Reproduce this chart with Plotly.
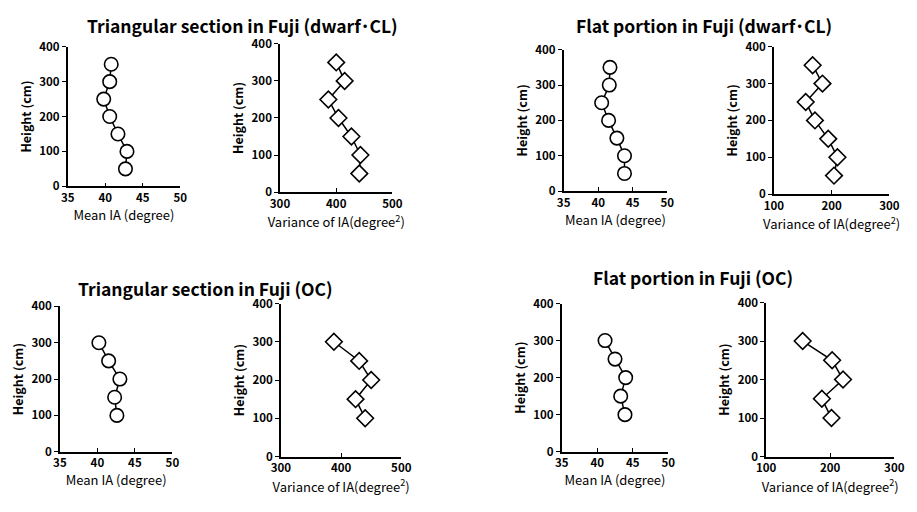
import plotly.graph_objects as go

W, H = 917, 512

# ---- data ----
heights_cl = [350, 300, 250, 200, 150, 100, 50]
heights_oc = [300, 250, 200, 150, 100]

tri_cl_mean = [40.8, 40.6, 39.8, 40.6, 41.7, 42.9, 42.7]
tri_cl_var = [400, 415, 386, 404, 427, 443, 441]
flat_cl_mean = [41.7, 41.6, 40.5, 41.5, 42.7, 43.8, 43.8]
flat_cl_var = [167, 184, 155, 171, 194, 210, 204]

tri_oc_mean = [40.2, 41.5, 43.0, 42.3, 42.6]
tri_oc_var = [388, 430, 450, 424, 440]
flat_oc_mean = [41.1, 42.5, 44.0, 43.3, 43.9]
flat_oc_var = [157, 203, 220, 187, 202]

titles = ["Triangular section in Fuji (dwarf･CL)", "Flat portion in Fuji (dwarf･CL)",
          "Triangular section in Fuji (OC)", "Flat portion in Fuji (OC)"]

mean_ticks = [35, 40, 45, 50]
y_ticks = [0, 100, 200, 300, 400]
var_ticks_tri = [300, 400, 500]
var_ticks_flat = [100, 200, 300]

FONT = "Noto Sans CJK JP, Liberation Sans, Arial, sans-serif"

# panel pixel boxes: (x0, x1, y0, y1)
panels = [
    dict(x=tri_cl_mean, y=heights_cl, box=(59, 174, 39, 183), xr=[35, 50], xt=mean_ticks, kind="mean"),
    dict(x=tri_cl_var, y=heights_cl, box=(276, 391, 36, 189), xr=[300, 500], xt=var_ticks_tri, kind="var"),
    dict(x=flat_cl_mean, y=heights_cl, box=(566, 672, 42, 188), xr=[35, 50], xt=mean_ticks, kind="mean"),
    dict(x=flat_cl_var, y=heights_cl, box=(781, 899, 39, 191), xr=[100, 300], xt=var_ticks_flat, kind="var"),
    dict(x=tri_oc_mean, y=heights_oc, box=(51, 166, 307, 457), xr=[35, 50], xt=mean_ticks, kind="mean"),
    dict(x=tri_oc_var, y=heights_oc, box=(277, 400, 304, 462), xr=[300, 500], xt=var_ticks_tri, kind="var"),
    dict(x=flat_oc_mean, y=heights_oc, box=(564, 673, 304, 457), xr=[35, 50], xt=mean_ticks, kind="mean"),
    dict(x=flat_oc_var, y=heights_oc, box=(773, 904, 303, 462), xr=[100, 300], xt=var_ticks_flat, kind="var"),
]

fig = go.Figure()
layout = dict(
    width=W, height=H, margin=dict(l=0, r=0, t=0, b=0),
    paper_bgcolor="white", plot_bgcolor="white", showlegend=False,
    font=dict(family=FONT, color="black"),
)

for i, p in enumerate(panels, start=1):
    sfx = "" if i == 1 else str(i)
    x0, x1, y0, y1 = p["box"]
    marker = dict(symbol="circle", size=13.5) if p["kind"] == "mean" else dict(symbol="diamond", size=12.8)
    marker.update(color="white", line=dict(color="black", width=1.6))
    fig.add_trace(go.Scatter(
        x=p["x"], y=p["y"], mode="lines+markers",
        line=dict(color="black", width=1.5), marker=marker,
        xaxis="x" + sfx, yaxis="y" + sfx, cliponaxis=False,
    ))
    if p["kind"] == "mean":
        xtitle, stand = "Mean IA (degree)", 5
    else:
        xtitle, stand = "Variance of IA(degree<sup>2</sup>)", 8
    layout["xaxis" + sfx] = dict(
        domain=[x0 / W, x1 / W], anchor="y" + sfx, range=p["xr"],
        tickvals=p["xt"], showgrid=False, zeroline=False,
        showline=True, linecolor="black", linewidth=1.5,
        ticks="inside", ticklen=4, tickcolor="black",
        tickfont=dict(size=11.5, weight="bold"),
        title=dict(text=xtitle, font=dict(size=13), standoff=stand),
    )
    layout["yaxis" + sfx] = dict(
        domain=[1 - y1 / H, 1 - y0 / H], anchor="x" + sfx, range=[0, 400],
        tickvals=y_ticks, showgrid=False, zeroline=False,
        showline=True, linecolor="black", linewidth=1.5,
        ticks="outside", ticklen=4, tickcolor="black",
        tickfont=dict(size=11.5, weight="bold"),
        title=dict(text="Height (cm)", font=dict(size=12.5, weight="bold"), standoff=5),
    )

title_pos = [(238, 17), (709, 17), (200, 289), (698, 277)]
layout["annotations"] = [
    dict(text=t, x=xp / W, y=1 - yp / H, xref="paper", yref="paper",
         showarrow=False, xanchor="center", yanchor="middle",
         font=dict(size=17.5, weight="bold", family=FONT))
    for t, (xp, yp) in zip(titles, title_pos)
]

fig.update_layout(**layout)
fig.write_html("out.html")
